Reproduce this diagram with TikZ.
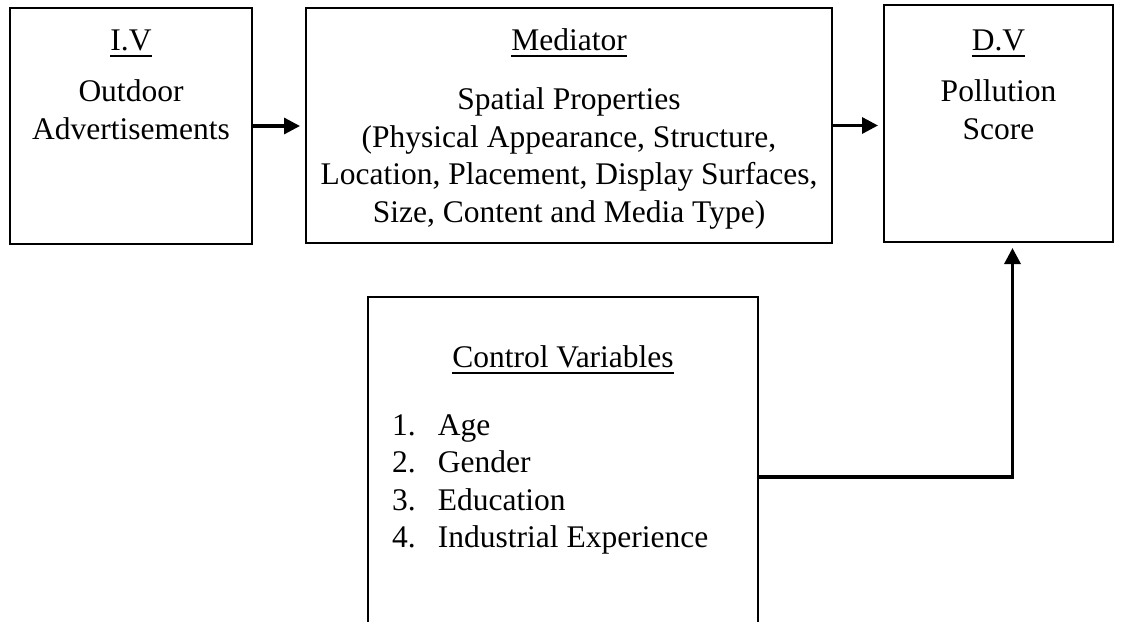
\documentclass[tikz,border=0pt]{standalone}
\usepackage{fontspec}
\setmainfont{Liberation Serif}
\usetikzlibrary{arrows.meta}
\newcommand{\ttl}[1]{\setbox0\hbox{#1}\rlap{\rule[-7pt]{\wd0}{2.2pt}}\box0}

\begin{document}
\begin{tikzpicture}[x=1pt, y=-1pt,
  box/.style={draw, line width=2.7pt, inner sep=0pt, outer sep=0pt, anchor=north west, font=\fontsize{31.5pt}{37.5pt}\selectfont},
  link/.style={-{Triangle[length=16pt,width=16pt]}, line width=3.3pt, shorten >=6pt}
]
\useasboundingbox (0,0) rectangle (1124,621);
\node[box] (iv) at (10,8) {\parbox[c][236pt][t]{242pt}{\centering
  \rule{0pt}{42pt}\ttl{I.V}\\[14pt]Outdoor\\Advertisements}};
\node[box] (med) at (306,8) {\parbox[c][235pt][t]{526pt}{\centering
  \rule{0pt}{42pt}\ttl{Mediator}\\[22pt]Spatial Properties\\(Physical Appearance, Structure,\\Location, Placement, Display Surfaces,\\Size, Content and Media Type)}};
\node[box] (dv) at (884,5) {\parbox[c][237pt][t]{229pt}{\centering
  \rule{0pt}{45pt}\ttl{D.V}\\[14pt]Pollution\\Score}};
\node[box] (ctrl) at (368,297) {\parbox[c][360pt][t]{390pt}{\centering
  \rule{0pt}{70pt}\ttl{Control Variables}\par
  \vspace{30.5pt}\raggedright
  \hspace*{24pt}\makebox[46pt][l]{1.}Age\\
  \hspace*{24pt}\makebox[46pt][l]{2.}Gender\\
  \hspace*{24pt}\makebox[46pt][l]{3.}Education\\
  \hspace*{24pt}\makebox[46pt][l]{4.}Industrial Experience}};
\draw[link] (iv.east) -- (iv.east -| med.west);
\draw[link] (med.east) -- (med.east -| dv.west);
\draw[link] (ctrl.east) -| ([xshift=14pt]dv.south);
\end{tikzpicture}
\end{document}
